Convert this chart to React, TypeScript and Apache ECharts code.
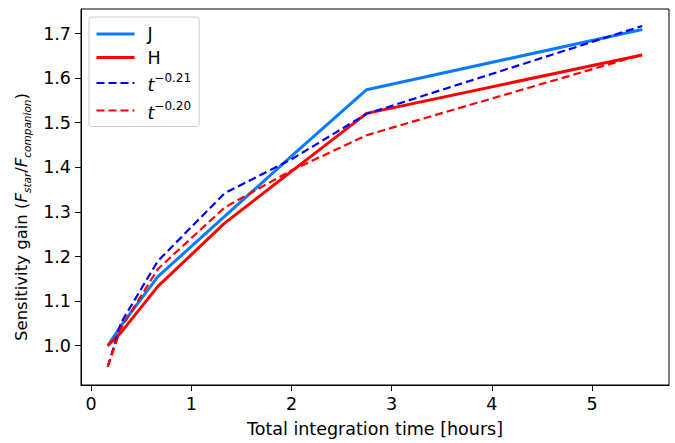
import React, { useEffect, useRef } from "react";
import * as echarts from "echarts";

const hours = [0.167, 0.3, 0.667, 1.333, 2.0, 2.75, 5.5];
const jGain = [1.0, 1.045, 1.155, 1.29, 1.425, 1.574, 1.709];
const hGain = [1.0, 1.03, 1.133, 1.275, 1.391, 1.521, 1.652];
const fit021 = [0.953, 1.052, 1.19, 1.342, 1.418, 1.52, 1.717];
const fit020 = [0.953, 1.04, 1.172, 1.31, 1.393, 1.472, 1.653];
const xTicks = [0, 1, 2, 3, 4, 5];
const yTicks = [1.0, 1.1, 1.2, 1.3, 1.4, 1.5, 1.6, 1.7];

const seriesNames = ["J", "H", "t-0.21", "t-0.20"];

const FONT = "DejaVu Sans";
const FS = 17.5;

function pairs(xs: number[], ys: number[]) {
  return xs.map((x, i) => [x, ys[i]]);
}

export default function App() {
  const ref = useRef<HTMLDivElement>(null);
  useEffect(() => {
    if (!ref.current) return;
    const chart = echarts.init(ref.current, undefined, { renderer: "svg" });
    const option: any = {
      animation: false,
      backgroundColor: "#ffffff",
      textStyle: { fontFamily: FONT },
      grid: {
        left: 81,
        right: 6,
        top: 9,
        bottom: 53,
        show: true,
        borderColor: "#000",
        borderWidth: 1,
        backgroundColor: "transparent",
      },
      legend: {
        orient: "vertical",
        left: 89,
        top: 17,
        padding: [8, 8, 5, 6],
        itemWidth: 38,
        itemHeight: 20,
        itemGap: 5.5,
        backgroundColor: "rgba(255,255,255,0.8)",
        borderColor: "#cccccc",
        borderWidth: 1,
        borderRadius: 3,
        itemStyle: { opacity: 0 },
        data: [
          { name: seriesNames[0], lineStyle: { width: 3 } },
          { name: seriesNames[1], lineStyle: { width: 3 } },
          { name: seriesNames[2], lineStyle: { width: 2.2 } },
          { name: seriesNames[3], lineStyle: { width: 2.2 } },
        ],
        formatter: (name: string) => {
          if (name === "t-0.21") return "{i|t}{sup|\u22120.21}";
          if (name === "t-0.20") return "{i|t}{sup|\u22120.20}";
          return "{n|" + name + "}";
        },
        textStyle: {
          fontFamily: FONT,
          fontSize: FS,
          color: "#000",
          padding: [0, 0, 0, 8],
          rich: {
            n: { fontFamily: FONT, fontSize: FS, color: "#000", lineHeight: 22 },
            i: {
              fontFamily: FONT,
              fontSize: FS,
              fontStyle: "italic",
              color: "#000",
              lineHeight: 22,
              verticalAlign: "bottom",
            },
            sup: {
              fontFamily: FONT,
              fontSize: 12,
              color: "#000",
              lineHeight: 8,
              verticalAlign: "top",
            },
          },
        },
      },
      xAxis: {
        type: "value",
        min: -0.1,
        max: 5.767,
        name: "Total integration time [hours]",
        nameLocation: "middle",
        nameGap: 35,
        nameTextStyle: { fontFamily: FONT, fontSize: FS, color: "#000" },
        splitLine: { show: false },
        axisLine: { show: true, onZero: false, lineStyle: { color: "#000", width: 1 } },
        axisTick: {
          show: true,
          inside: false,
          length: 6,
          customValues: xTicks,
          lineStyle: { color: "#000", width: 1 },
        },
        axisLabel: {
          customValues: xTicks,
          margin: 10,
          fontFamily: FONT,
          fontSize: FS,
          color: "#000",
          formatter: (v: number) => String(v),
        },
      },
      yAxis: {
        type: "value",
        min: 0.912,
        max: 1.755,
        name: "Sensitivity gain ({i|F}{sub|star}/{i|F}{sub|companion})",
        nameLocation: "middle",
        nameRotate: 90,
        nameGap: 48,
        nameTextStyle: {
          fontFamily: FONT,
          fontSize: 16.5,
          color: "#000",
          padding: [0, 40, 0, 0],
          rich: {
            i: {
              fontFamily: FONT,
              fontSize: 16.5,
              fontStyle: "italic",
              color: "#000",
              lineHeight: 22,
            },
            sub: {
              fontFamily: FONT,
              fontSize: 10.5,
              fontStyle: "italic",
              color: "#000",
              lineHeight: 12,
              verticalAlign: "bottom",
            },
          },
        },
        splitLine: { show: false },
        axisLine: { show: true, onZero: false, lineStyle: { color: "#000", width: 1 } },
        axisTick: {
          show: true,
          inside: false,
          length: 6,
          customValues: yTicks,
          lineStyle: { color: "#000", width: 1 },
        },
        axisLabel: {
          customValues: yTicks,
          margin: 10,
          fontFamily: FONT,
          fontSize: FS,
          color: "#000",
          formatter: (v: number) => v.toFixed(1),
        },
      },
      series: [
        {
          name: "J",
          type: "line",
          data: pairs(hours, jGain),
          symbol: "none",
          lineStyle: { color: "#0a7bff", width: 3 },
          itemStyle: { color: "#0a7bff" },
          z: 3,
        },
        {
          name: "H",
          type: "line",
          data: pairs(hours, hGain),
          symbol: "none",
          lineStyle: { color: "#ff0000", width: 3 },
          itemStyle: { color: "#ff0000" },
          z: 3,
        },
        {
          name: "t-0.21",
          type: "line",
          data: pairs(hours, fit021),
          symbol: "none",
          lineStyle: { color: "#0000ff", width: 2.2, type: [8, 4] },
          itemStyle: { color: "#0000ff" },
          z: 4,
        },
        {
          name: "t-0.20",
          type: "line",
          data: pairs(hours, fit020),
          symbol: "none",
          lineStyle: { color: "#ff0000", width: 2.2, type: [8, 4] },
          itemStyle: { color: "#ff0000" },
          z: 4,
        },
      ],
    };
    chart.setOption(option);
    return () => chart.dispose();
  }, []);
  return (
    <div
      ref={ref}
      style={{ position: "fixed", left: 0, top: 0, width: 675, height: 443, background: "#fff" }}
    />
  );
}
